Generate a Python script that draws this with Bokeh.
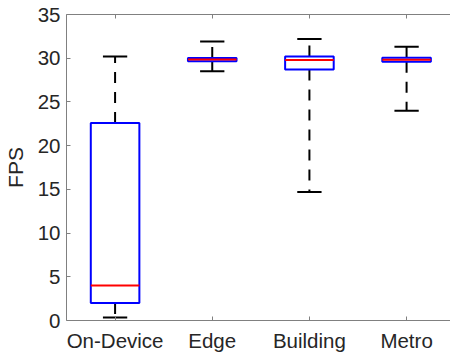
from bokeh.plotting import figure
from bokeh.models import FixedTicker, LinearAxis, Range1d, ColumnDataSource, CustomJSTickFormatter
from bokeh.embed import file_html
from bokeh.resources import INLINE

# Frame rate per deployment
categories = ["On-Device", "Edge", "Building", "Metro"]
whisker_low = [0.35, 28.5, 14.7, 24.0]
quartile_1 = [2.0, 29.64, 28.7, 29.6]
median = [4.0, 29.84, 29.8, 29.83]
quartile_3 = [22.6, 30.03, 30.2, 30.05]
whisker_high = [30.2, 31.9, 32.2, 31.3]
y_ticks = [0, 5, 10, 15, 20, 25, 30, 35]

FONT = "Liberation Sans"
TEXT = "#262626"
AXIS = "#808080"
BOX_W = 0.5
CAP_W = 0.25

pos = list(range(1, len(categories) + 1))
src = ColumnDataSource(dict(
    x=pos,
    lo=whisker_low, q1=quartile_1, med=median, q3=quartile_3, hi=whisker_high,
    bl=[x - BOX_W / 2 for x in pos], br=[x + BOX_W / 2 for x in pos],
    cl=[x - CAP_W / 2 for x in pos], cr=[x + CAP_W / 2 for x in pos],
))

p = figure(width=450, height=354,
           x_range=Range1d(0.5, 4.452), y_range=Range1d(0, 35),
           output_backend="svg", toolbar_location=None,
           min_border_left=66, min_border_right=0,
           min_border_top=14, min_border_bottom=32)
p.outline_line_color = None
p.grid.visible = False
p.background_fill_color = "white"
p.border_fill_color = "white"

# whiskers (dashed), drawn from the box outwards
p.segment(x0="x", y0="q3", x1="x", y1="hi", source=src,
          line_color="black", line_width=2, line_dash="11 9")
p.segment(x0="x", y0="q1", x1="x", y1="lo", source=src,
          line_color="black", line_width=2, line_dash="11 9")
# whisker caps
p.segment(x0="cl", y0="hi", x1="cr", y1="hi", source=src,
          line_color="black", line_width=2)
p.segment(x0="cl", y0="lo", x1="cr", y1="lo", source=src,
          line_color="black", line_width=2)
# interquartile boxes
p.vbar(x="x", width=BOX_W, bottom="q1", top="q3", source=src,
       fill_color=None, line_color="#0000FF", line_width=2)
# medians
p.segment(x0="bl", y0="med", x1="br", y1="med", source=src,
          line_color="#FF0000", line_width=2)

# bottom axis
xa = p.xaxis[0]
xa.ticker = FixedTicker(ticks=pos)
xa.major_label_overrides = {x: c for x, c in zip(pos, categories)}
xa.major_tick_in = 4
xa.major_tick_out = 0
xa.minor_tick_line_color = None
xa.axis_line_color = AXIS
xa.major_tick_line_color = AXIS
xa.major_label_text_font = FONT
xa.major_label_text_font_size = "20.5px"
xa.major_label_text_color = TEXT
xa.major_label_standoff = 8

# left axis
ya = p.yaxis[0]
ya.ticker = FixedTicker(ticks=y_ticks)
ya.major_tick_in = 4
ya.major_tick_out = 0
ya.minor_tick_line_color = None
ya.axis_line_color = AXIS
ya.major_tick_line_color = AXIS
ya.major_label_text_font = FONT
ya.major_label_text_font_size = "20.5px"
ya.major_label_text_color = TEXT
ya.major_label_standoff = 6
ya.axis_label = "FPS"
ya.axis_label_text_font = FONT
ya.axis_label_text_font_size = "21px"
ya.axis_label_text_font_style = "normal"
ya.axis_label_text_color = TEXT
ya.axis_label_standoff = 8

# top box edge with inward ticks, no labels
top = LinearAxis(ticker=FixedTicker(ticks=pos),
                 formatter=CustomJSTickFormatter(code="return ''"),
                 major_tick_in=4, major_tick_out=0,
                 minor_tick_line_color=None,
                 axis_line_color=AXIS, major_tick_line_color=AXIS,
                 major_label_standoff=0)
p.add_layout(top, "above")

open("out.html", "w").write(file_html(p, INLINE))
